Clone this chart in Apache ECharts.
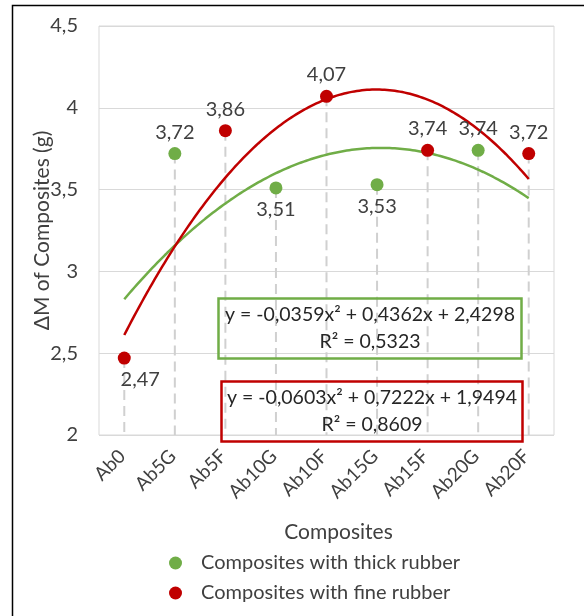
<!DOCTYPE html>
<html>
<head>
<meta charset="utf-8">
<script src="https://cdn.jsdelivr.net/npm/echarts@6/dist/echarts.min.js"></script>
<style>
    html, body { margin: 0; padding: 0; background: #fff; }
    #chart { width: 584px; height: 616px; }
</style>
</head>
<body>
<div id="chart"></div>
<script>
// 数据
const categories = ['Ab0', 'Ab5G', 'Ab5F', 'Ab10G', 'Ab10F', 'Ab15G', 'Ab15F', 'Ab20G', 'Ab20F'];
const thickRubber = [null, 3.72, null, 3.51, null, 3.53, null, 3.74, null];
const fineRubber = [2.47, null, 3.86, null, 4.07, null, 3.74, null, 3.72];
const yTicks = [2, 2.5, 3, 3.5, 4, 4.5];
// 趋势线系数 (a, b, c : ax² + bx + c, x = 1..9)
const thickFit = [-0.0359, 0.4362, 2.4298];
const fineFit = [-0.0603, 0.7222, 1.9494];
const thickR2 = 0.5323;
const fineR2 = 0.8609;

// 标签位置
const thickLabelPos = ['top', 'top', 'top', 'bottom', 'top', 'bottom', 'top', 'top', 'top'];
const fineLabelPos = ['bottom', 'top', 'top', 'top', 'top', 'top', 'top', 'top', 'top'];

const GREEN = '#70AD47';
const RED = '#C00000';
const TEXT = '#404040';
const FONT = 'Lato';

function comma(v, d) {
    return (d === undefined ? String(v) : v.toFixed(d)).replace('.', ',');
}

function eqText(f, r2) {
    return 'y = ' + comma(f[0], 4) + 'x² + ' + comma(f[1], 4) + 'x + ' + comma(f[2], 4) +
        '\nR² = ' + comma(r2, 4);
}

function curve(f) {
    const pts = [];
    for (let i = 0; i <= 160; i++) {
        const x = 1 + i * 0.05;
        pts.push([x, f[0] * x * x + f[1] * x + f[2]]);
    }
    return pts;
}

function points(values, pos) {
    return values.map(function (v, i) {
        if (v === null) return null;
        const item = { value: v, label: { position: pos[i] } };
        if (i === 0) item.label.offset = [16, 0];
        return item;
    });
}

const dropData = categories.map(function (c, i) {
    return [i, thickRubber[i] !== null ? thickRubber[i] : fineRubber[i]];
});

const chart = echarts.init(document.getElementById('chart'));

const labelStyle = {
    show: true,
    color: TEXT,
    fontFamily: FONT,
    fontSize: 20,
    distance: 5,
    formatter: function (p) { return comma(p.value); }
};

const option = {
    animation: false,
    textStyle: { fontFamily: FONT },
    grid: {
        left: 99, top: 26, right: 30, bottom: 181,
        show: true, borderColor: '#d9d9d9', borderWidth: 1
    },
    legend: {
        orient: 'vertical',
        left: 169, top: 553,
        padding: 0,
        height: 63,
        itemWidth: 13, itemHeight: 13, itemGap: 10,
        data: ['Composites with thick rubber', 'Composites with fine rubber'],
        textStyle: { color: TEXT, fontSize: 20, fontFamily: FONT, padding: [0, 0, 0, 14] }
    },
    xAxis: [
        {
            type: 'category',
            data: categories,
            boundaryGap: true,
            axisLine: { show: false },
            axisTick: { show: false },
            axisLabel: {
                rotate: 45, color: TEXT, fontSize: 19, fontFamily: FONT,
                margin: 16, padding: [27, 3, 0, 0]
            },
            name: 'Composites',
            nameLocation: 'middle',
            nameGap: 87,
            nameMoveOverlap: false,
            nameTextStyle: { color: TEXT, fontSize: 21, fontFamily: FONT, padding: [0, 0, 0, 24] }
        },
        { type: 'value', min: 0.5, max: 9.5, show: false }
    ],
    yAxis: {
        type: 'value',
        min: yTicks[0],
        max: yTicks[yTicks.length - 1],
        interval: yTicks[1] - yTicks[0],
        axisLine: { show: false },
        axisTick: { show: false },
        splitLine: { lineStyle: { color: '#d9d9d9', width: 1 } },
        axisLabel: {
            color: TEXT, fontSize: 20, fontFamily: FONT, margin: 21,
            formatter: function (v) { return comma(v); }
        },
        name: 'ΔM of Composites (g)',
        nameLocation: 'middle',
        nameGap: 46,
        nameMoveOverlap: false,
        nameTextStyle: { color: TEXT, fontSize: 21, fontFamily: FONT }
    },
    series: [
        {
            type: 'custom',
            silent: true,
            z: 1,
            data: dropData,
            renderItem: function (params, api) {
                const top = api.coord([api.value(0), api.value(1)]);
                const bottom = api.coord([api.value(0), yTicks[0]]);
                return {
                    type: 'line',
                    shape: { x1: top[0], y1: top[1], x2: bottom[0], y2: bottom[1] },
                    style: { stroke: '#d0d0d0', lineWidth: 2, lineDash: [10, 6] }
                };
            }
        },
        {
            name: 'thick fit',
            type: 'line',
            xAxisIndex: 1,
            data: curve(thickFit),
            showSymbol: false,
            z: 2,
            lineStyle: { color: GREEN, width: 2.5 },
            itemStyle: { color: GREEN }
        },
        {
            name: 'fine fit',
            type: 'line',
            xAxisIndex: 1,
            data: curve(fineFit),
            showSymbol: false,
            z: 2,
            lineStyle: { color: RED, width: 2.5 },
            itemStyle: { color: RED }
        },
        {
            name: 'Composites with thick rubber',
            type: 'scatter',
            symbolSize: 13,
            z: 3,
            itemStyle: { color: GREEN, opacity: 1 },
            label: labelStyle,
            data: points(thickRubber, thickLabelPos)
        },
        {
            name: 'Composites with fine rubber',
            type: 'scatter',
            symbolSize: 13,
            z: 3,
            itemStyle: { color: RED, opacity: 1 },
            label: labelStyle,
            data: points(fineRubber, fineLabelPos)
        }
    ],
    graphic: [
        {
            type: 'rect',
            shape: { x: 12.5, y: 5.5, width: 700, height: 800 },
            style: { fill: 'none', stroke: '#000', lineWidth: 1.5 },
            silent: true
        },
        {
            type: 'group',
            left: 216, top: 296,
            children: [
                { type: 'rect', z: 100, shape: { x: 0, y: 0, width: 303, height: 60 },
                  style: { fill: 'none', stroke: GREEN, lineWidth: 2.5 } },
                { type: 'text', z: 100, x: 151.5, y: 30,
                  style: { text: eqText(thickFit, thickR2), align: 'center', verticalAlign: 'middle',
                           fill: '#262626', font: '19.5px Lato', lineHeight: 27 } }
            ]
        },
        {
            type: 'group',
            left: 219, top: 379,
            children: [
                { type: 'rect', z: 100, shape: { x: 0, y: 0, width: 301, height: 60 },
                  style: { fill: 'none', stroke: RED, lineWidth: 2.5 } },
                { type: 'text', z: 100, x: 150.5, y: 30,
                  style: { text: eqText(fineFit, fineR2), align: 'center', verticalAlign: 'middle',
                           fill: '#262626', font: '19.5px Lato', lineHeight: 27 } }
            ]
        }
    ]
};

chart.setOption(option);

window.addEventListener('resize', function () {
    chart.resize();
});
</script>
</body>
</html>
